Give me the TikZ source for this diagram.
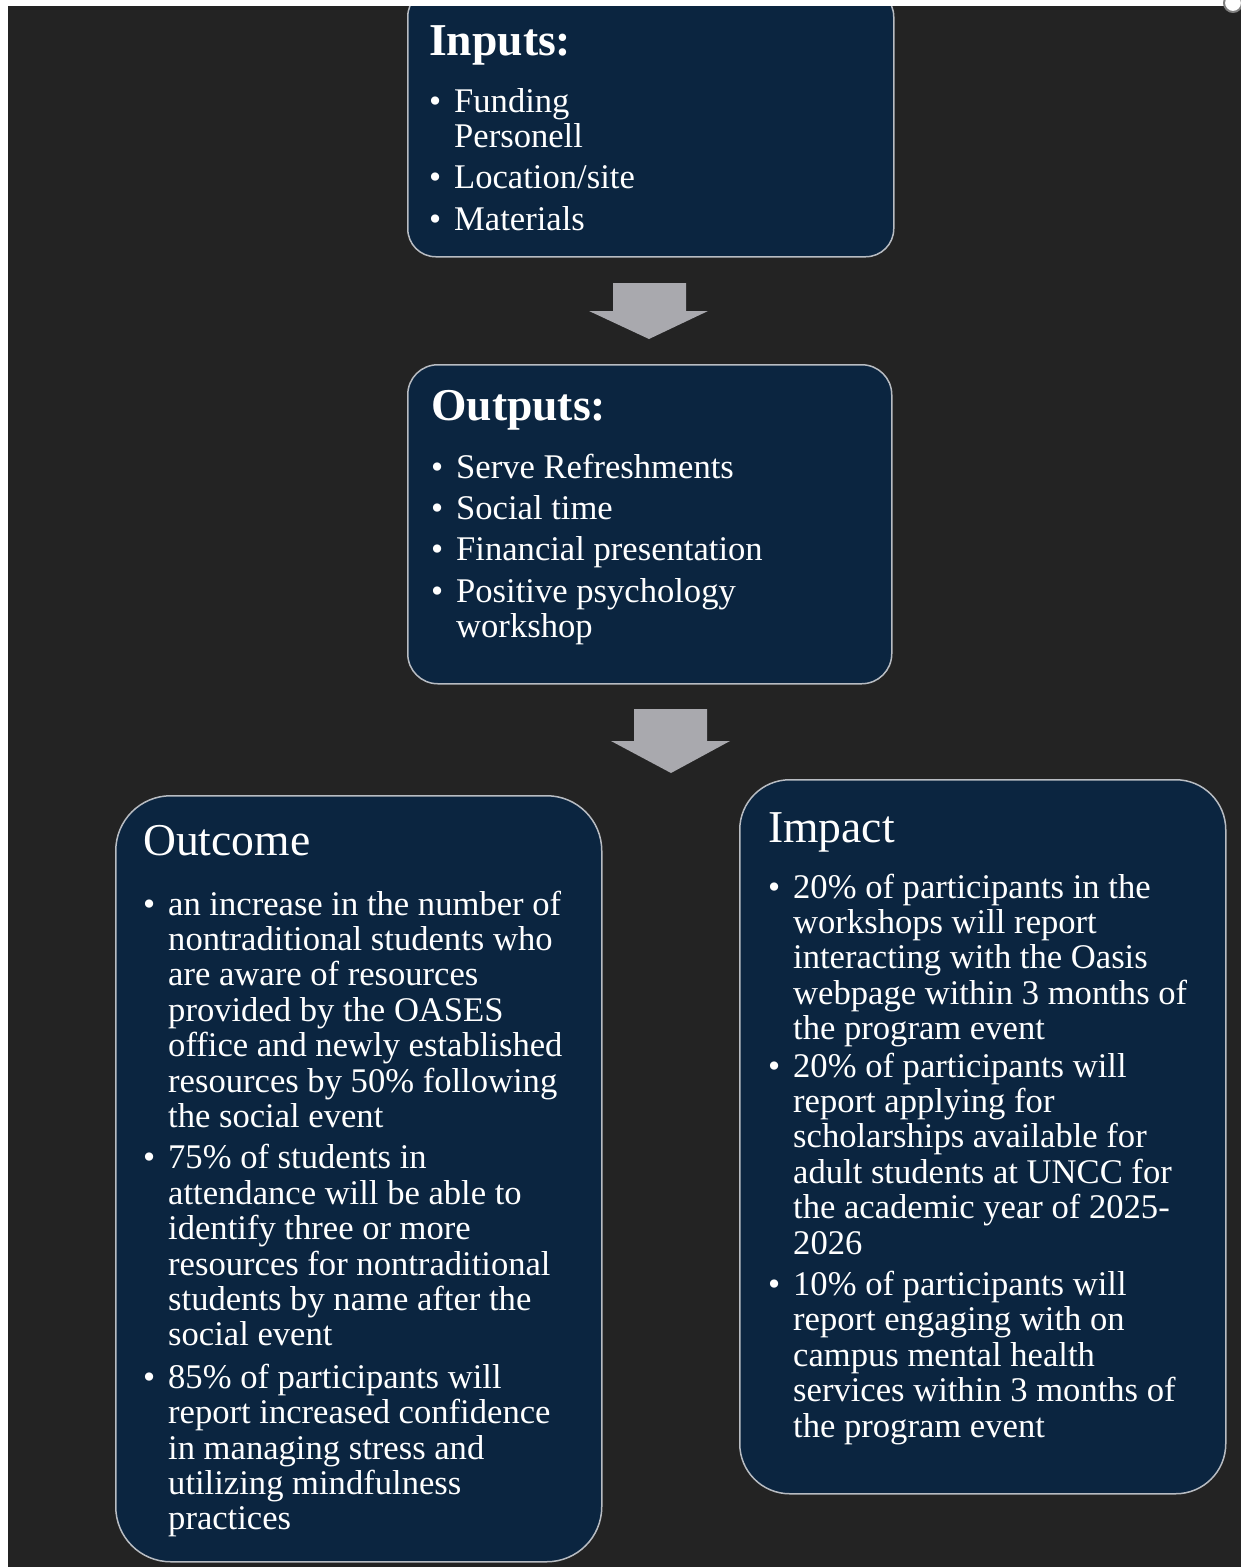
\documentclass[tikz,border=0pt]{standalone}
\usepackage{fontspec}
\setmainfont{Liberation Serif}
\usepackage{array}

\definecolor{bgdark}{HTML}{232323}
\definecolor{boxnavy}{HTML}{0B2540}
\definecolor{boxedge}{HTML}{B8BCC2}
\definecolor{arrowgray}{HTML}{A9A9AE}

\newcommand{\headfont}{\fontsize{45.6}{50}\selectfont}
\newcommand{\bodyfont}{\fontsize{34.6}{35.4}\selectfont}
\newenvironment{blist}{\begin{tabular}[t]{@{}p{25pt}@{}l@{}}}{\end{tabular}}

\tikzset{
  box/.style={draw=boxedge, line width=1.5pt, fill=boxnavy, anchor=north west, inner sep=0pt},
  boxhead/.style={anchor=base west, inner sep=0pt, text=white, font=\headfont},
  boxlist/.style={anchor=base west, inner sep=0pt, text=white, font=\bodyfont},
  blockarrow/.style={fill=arrowgray}
}

\begin{document}
\begin{tikzpicture}[x=1pt, y=-1pt, line join=round]

\useasboundingbox (0,0) rectangle (1241,1567);
\fill[bgdark] (0,0) rectangle (1241,1567);

% boxes
\node[box, minimum width=486pt, minimum height=268pt, rounded corners=28pt] (inputs) at (407,-12) {};
\node[box, minimum width=484pt, minimum height=319pt, rounded corners=30pt] (outputs) at (407,364) {};
\node[box, minimum width=486pt, minimum height=766pt, rounded corners=55pt] (outcome) at (115,795) {};
\node[box, minimum width=486pt, minimum height=714pt, rounded corners=50pt] (impact) at (739,779) {};

% block arrows
\fill[blockarrow] (613,283) -- (686,283) -- (686,311) -- (708,311) -- (649,339)
  -- (589,311) -- (613,311) -- cycle;
\fill[blockarrow] (634,709) -- (707,709) -- (707,741) -- (730,741) -- (671,773)
  -- (611,741) -- (634,741) -- cycle;

% texts
\node[boxhead] (inputs-head) at (429,55) {\bfseries Inputs:};
\node[boxlist] (inputs-list) at (429,112) {\begin{blist}
\textbullet & Funding\\
 & Personell\\[6pt]
\textbullet & Location/site\\[6pt]
\textbullet & Materials
\end{blist}};

\node[boxhead] (outputs-head) at (431,420) {\bfseries Outputs:};
\node[boxlist] (outputs-list) at (431,478) {\begin{blist}
\textbullet & Serve Refreshments\\[6pt]
\textbullet & Social time\\[6pt]
\textbullet & Financial presentation\\[6pt]
\textbullet & Positive psychology\\
 & workshop
\end{blist}};

\node[boxhead] (outcome-head) at (143,855) {Outcome};
\node[boxlist] (outcome-list) at (143,915) {\begin{blist}
\textbullet & an increase in the number of\\
 & nontraditional students who\\
 & are aware of resources\\
 & provided by the OASES\\
 & office and newly established\\
 & resources by 50\% following\\
 & the social event\\[6pt]
\textbullet & 75\% of students in\\
 & attendance will be able to\\
 & identify three or more\\
 & resources for nontraditional\\
 & students by name after the\\
 & social event\\[7pt]
\textbullet & 85\% of participants will\\
 & report increased confidence\\
 & in managing stress and\\
 & utilizing mindfulness\\
 & practices
\end{blist}};

\node[boxhead] (impact-head) at (768,842) {Impact};
\node[boxlist] (impact-list) at (768,898) {\begin{blist}
\textbullet & 20\% of participants in the\\
 & workshops will report\\
 & interacting with the Oasis\\
 & webpage within 3 months of\\
 & the program event\\[2pt]
\textbullet & 20\% of participants will\\
 & report applying for\\
 & scholarships available for\\
 & adult students at UNCC for\\
 & the academic year of 2025-\\
 & 2026\\[6pt]
\textbullet & 10\% of participants will\\
 & report engaging with on\\
 & campus mental health\\
 & services within 3 months of\\
 & the program event
\end{blist}};

% white page edges
\fill[white] (0,0) rectangle (1241,6);
\fill[white] (0,0) rectangle (8,1567);
\filldraw[fill=white, draw=gray, line width=2pt] (1233,3) circle (9);

\end{tikzpicture}
\end{document}
